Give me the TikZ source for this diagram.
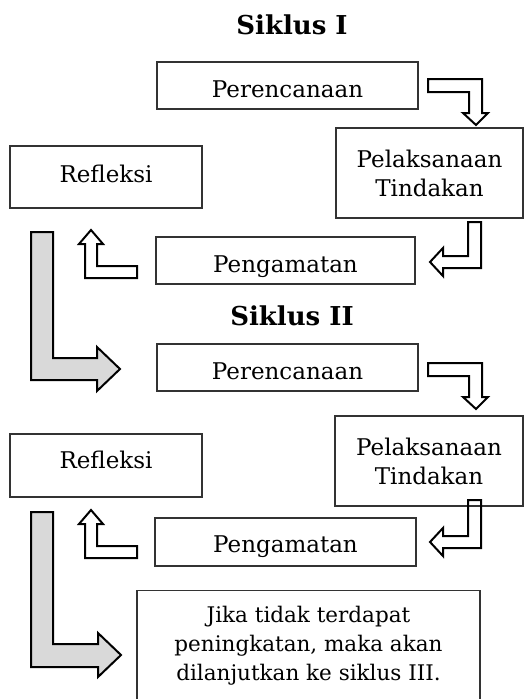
\documentclass[tikz,border=0pt]{standalone}
\usepackage{fontspec}
\setmainfont{DejaVu Serif}

\tikzstyle{box}=[draw=black!80, line width=1.1pt, inner xsep=0pt, inner ysep=0pt, align=center, font=\fontsize{23}{29}\selectfont]
\tikzstyle{title}=[font=\fontsize{26}{30}\selectfont\bfseries]
\tikzstyle{bent}=[draw, line width=2pt, line join=miter]
\tikzstyle{bigbent}=[draw, line width=2pt, line join=miter, fill=black!15]

\begin{document}
\begin{tikzpicture}[x=1pt, y=-1pt]
\useasboundingbox (0,0) rectangle (524,699);
\clip (0,0) rectangle (524,699);

\node[title](t1) at (292,25) {Siklus I};
\node[box,minimum width=261pt,text height=35pt,text depth=12pt](per1) at (287.5,85.5) {Perencanaan};
\node[box,minimum width=187pt,minimum height=90pt](pel1) at (429.5,173) {Pelaksanaan\\Tindakan};
\node[box,minimum width=192pt,text height=36pt,text depth=26pt](ref1) at (106,177) {Refleksi};
\node[box,minimum width=259pt,text height=35.5pt,text depth=11.5pt](pen1) at (285.5,260.5) {Pengamatan};

\node[title](t2) at (292,316) {Siklus II};
\node[box,minimum width=261pt,text height=35pt,text depth=12pt](per2) at (287.5,367.5) {Perencanaan};
\node[box,minimum width=188pt,minimum height=90pt](pel2) at (429,461) {Pelaksanaan\\Tindakan};
\node[box,minimum width=192pt,text height=34pt,text depth=29pt](ref2) at (106,465.5) {Refleksi};
\node[box,minimum width=261pt,text height=34pt,text depth=14pt](pen2) at (285.5,542) {Pengamatan};

\node[box,minimum width=343pt,minimum height=110pt,anchor=north,font=\fontsize{21.5}{29}\selectfont](fin) at (308.5,590) {Jika tidak terdapat\\peningkatan, maka akan\\dilanjutkan ke siklus III.};

\coordinate (a1) at (428,79);
\coordinate (a2) at (428,363);
\coordinate (a3) at (468,222);
\coordinate (a4) at (468,500);
\coordinate (a5) at (137,266);
\coordinate (a6) at (137,546);
\coordinate (g1) at (31,232);
\coordinate (g2) at (31,512);

\draw[bent] (a1) -- ++(54,0) -- ++(0,34) -- ++(6,0) -- ++(-12,12) -- ++(-13,-12) -- ++(6,0) -- ++(0,-21) -- ++(-41,0) -- cycle;
\draw[bent] (a2) -- ++(54,0) -- ++(0,34) -- ++(6,0) -- ++(-12,12) -- ++(-13,-12) -- ++(6,0) -- ++(0,-21) -- ++(-41,0) -- cycle;
\draw[bent] (a3) -- ++(13,0) -- ++(0,46) -- ++(-38,0) -- ++(0,8) -- ++(-13,-14) -- ++(13,-14) -- ++(0,8) -- ++(25,0) -- cycle;
\draw[bent] (a4) -- ++(13,0) -- ++(0,48) -- ++(-38,0) -- ++(0,8) -- ++(-13,-14) -- ++(13,-14) -- ++(0,8) -- ++(25,0) -- cycle;
\draw[bent] (a5) -- ++(0,12) -- ++(-52,0) -- ++(0,-34) -- ++(-6,0) -- ++(12,-14) -- ++(12,14) -- ++(-6,0) -- ++(0,22) -- cycle;
\draw[bent] (a6) -- ++(0,12) -- ++(-52,0) -- ++(0,-34) -- ++(-6,0) -- ++(12,-14) -- ++(12,14) -- ++(-6,0) -- ++(0,22) -- cycle;
\draw[bigbent] (g1) -- ++(22,0) -- ++(0,126) -- ++(44,0) -- ++(0,-11) -- ++(23,22) -- ++(-23,22) -- ++(0,-11) -- ++(-66,0) -- cycle;
\draw[bigbent] (g2) -- ++(22,0) -- ++(0,132) -- ++(45,0) -- ++(0,-11) -- ++(23,22) -- ++(-23,22) -- ++(0,-10) -- ++(-67,0) -- cycle;
\end{tikzpicture}
\end{document}
